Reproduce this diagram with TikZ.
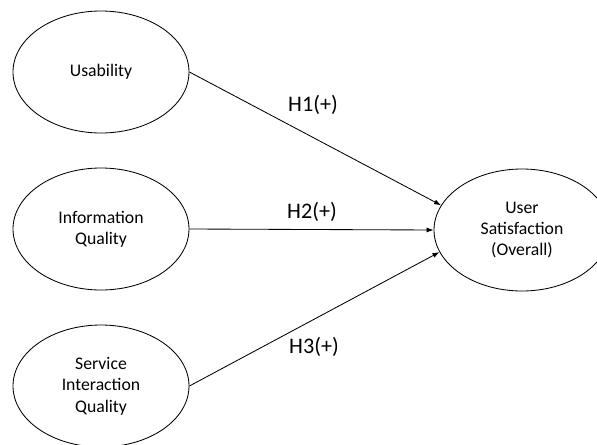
\documentclass[tikz,border=0pt]{standalone}
\usepackage{fontspec}
\setmainfont{Carlito}
\usepackage{tikz}
\usetikzlibrary{shapes.geometric, arrows.meta, positioning}
\tikzstyle{construct} = [ellipse, draw=black, line width=0.6pt, minimum width=4.4cm, minimum height=3.05cm, inner sep=0pt, align=center, font=\fontsize{12.6}{15.2}\selectfont]
\tikzstyle{hyp} = [font=\fontsize{15.8}{18}\selectfont]
\tikzstyle{arrow} = [line width=0.6pt,-{Latex[length=5pt,width=3.6pt]}]
\begin{document}
\begin{tikzpicture}
    \useasboundingbox (0,0) rectangle (14.925,11.1);

    % Predictors
    \node[construct] (use) at (2.525, 9.3) {Usability};
    \node[construct] (info) at (2.525, 5.375) {Information\\Quality};
    \node[construct] (serv) at (2.525, 1.45) {Service\\Interaction\\Quality};

    % Outcome
    \node[construct] (sat) at (13.05, 5.35) {User\\Satisfaction\\(Overall)};

    % Arrows
    \draw[arrow] (use.east) -- (sat.163);
    \draw[arrow] (info.east) -- (sat.west);
    \draw[arrow] (serv.east) -- (sat.195);

    % Hypothesis labels
    \node[hyp] (h1) at (7.825, 8.475) {H1(+)};
    \node[hyp] (h2) at (7.8, 5.8) {H2(+)};
    \node[hyp] (h3) at (7.85, 2.425) {H3(+)};
\end{tikzpicture}
\end{document}
